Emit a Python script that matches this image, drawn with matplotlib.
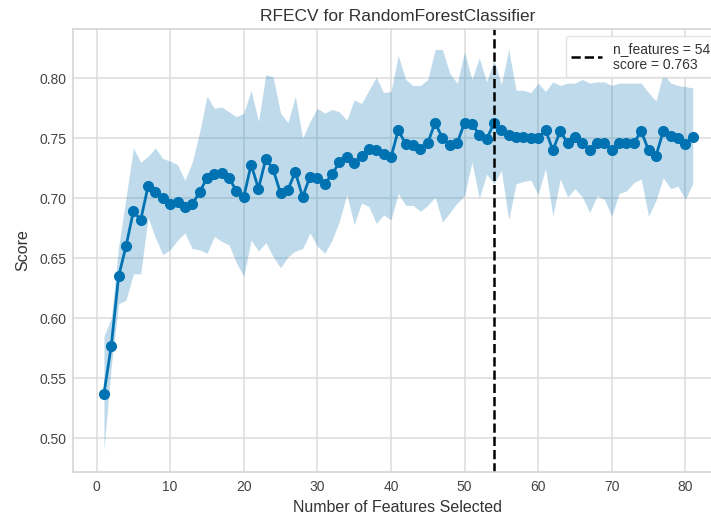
import numpy as np
import matplotlib
matplotlib.use("Agg")
import matplotlib.pyplot as plt

# cross-validated score for each number of selected features
n_features = np.arange(1, 82)
score_mean = [0.537, 0.577, 0.635, 0.660, 0.689, 0.682, 0.710, 0.705, 0.700, 0.695,
              0.697, 0.693, 0.695, 0.705, 0.717, 0.720, 0.721, 0.717, 0.706, 0.701,
              0.728, 0.708, 0.733, 0.724, 0.704, 0.707, 0.722, 0.701, 0.718, 0.717,
              0.712, 0.720, 0.730, 0.734, 0.729, 0.735, 0.741, 0.740, 0.737, 0.734,
              0.757, 0.745, 0.744, 0.741, 0.746, 0.763, 0.750, 0.744, 0.746, 0.763,
              0.762, 0.753, 0.749, 0.763, 0.757, 0.753, 0.751, 0.751, 0.750, 0.750,
              0.757, 0.740, 0.756, 0.746, 0.751, 0.746, 0.740, 0.746, 0.746, 0.740,
              0.746, 0.746, 0.746, 0.756, 0.740, 0.735, 0.756, 0.752, 0.750, 0.745,
              0.751]
score_upper = [0.585, 0.600, 0.660, 0.700, 0.742, 0.730, 0.735, 0.742, 0.733, 0.731,
               0.728, 0.715, 0.730, 0.755, 0.785, 0.775, 0.776, 0.772, 0.768, 0.771,
               0.790, 0.764, 0.803, 0.801, 0.771, 0.763, 0.785, 0.750, 0.764, 0.775,
               0.771, 0.774, 0.772, 0.765, 0.782, 0.779, 0.790, 0.801, 0.788, 0.789,
               0.819, 0.799, 0.794, 0.794, 0.799, 0.824, 0.824, 0.804, 0.796, 0.822,
               0.799, 0.817, 0.797, 0.815, 0.795, 0.824, 0.790, 0.790, 0.788, 0.796,
               0.789, 0.797, 0.794, 0.796, 0.796, 0.799, 0.796, 0.797, 0.797, 0.794,
               0.796, 0.796, 0.796, 0.796, 0.788, 0.781, 0.804, 0.796, 0.794, 0.793,
               0.792]
score_lower = [0.490, 0.560, 0.612, 0.615, 0.637, 0.637, 0.684, 0.667, 0.653, 0.657,
               0.665, 0.671, 0.658, 0.657, 0.654, 0.668, 0.664, 0.661, 0.646, 0.635,
               0.665, 0.656, 0.663, 0.651, 0.642, 0.651, 0.656, 0.658, 0.671, 0.660,
               0.654, 0.665, 0.681, 0.703, 0.678, 0.696, 0.693, 0.679, 0.686, 0.682,
               0.704, 0.694, 0.694, 0.689, 0.694, 0.701, 0.680, 0.688, 0.696, 0.702,
               0.730, 0.700, 0.720, 0.712, 0.723, 0.682, 0.712, 0.714, 0.715, 0.703,
               0.725, 0.685, 0.716, 0.701, 0.708, 0.701, 0.688, 0.702, 0.699, 0.685,
               0.704, 0.706, 0.713, 0.716, 0.685, 0.698, 0.717, 0.708, 0.710, 0.699,
               0.712]
best_n = 54
best_score = 0.763

blue = "#0072B2"
grey_txt = "#333333"
plt.rcParams["font.family"] = ["Liberation Sans", "DejaVu Sans"]

fig = plt.figure(figsize=(7.11, 5.18), dpi=100)
ax = fig.add_axes([0.1027, 0.0888, 0.914, 0.855])
ax.set_facecolor("white")
ax.grid(True, color="#dcdcdc", linewidth=1.1)
ax.set_axisbelow(True)
for s in ax.spines.values():
    s.set_color("#d5d5d5")
    s.set_linewidth(1.2)

ax.fill_between(n_features, score_lower, score_upper, color=blue, alpha=0.25, linewidth=0)
ax.plot(n_features, score_mean, "o-", color=blue, linewidth=2, markersize=7)
ax.axvline(best_n, color="k", linestyle="--", linewidth=1.8,
           label="n_features = %d\nscore = %.3f" % (best_n, best_score))

ax.set_xlim(-3.2, 85.1)
ax.set_ylim(0.4717, 0.841)
ax.set_xticks([0, 10, 20, 30, 40, 50, 60, 70, 80])
ax.set_yticks([0.50, 0.55, 0.60, 0.65, 0.70, 0.75, 0.80])
ax.set_yticklabels(["0.50", "0.55", "0.60", "0.65", "0.70", "0.75", "0.80"])
ax.tick_params(length=0, labelsize=10, labelcolor="#444444", pad=6)
ax.tick_params(axis="y", pad=5)

ax.set_title("RFECV for RandomForestClassifier", fontsize=12.5, color=grey_txt, pad=6)
ax.set_xlabel("Number of Features Selected", fontsize=11.5, color=grey_txt, labelpad=4)
ax.set_ylabel("Score", fontsize=11.5, color=grey_txt, labelpad=6)

leg = ax.legend(loc="upper right", fontsize=10, frameon=True, facecolor="white",
                edgecolor="#e0e0e0", framealpha=0.9, handlelength=2.2)
for t in leg.get_texts():
    t.set_color(grey_txt)

fig.savefig("out.png", dpi=100)
